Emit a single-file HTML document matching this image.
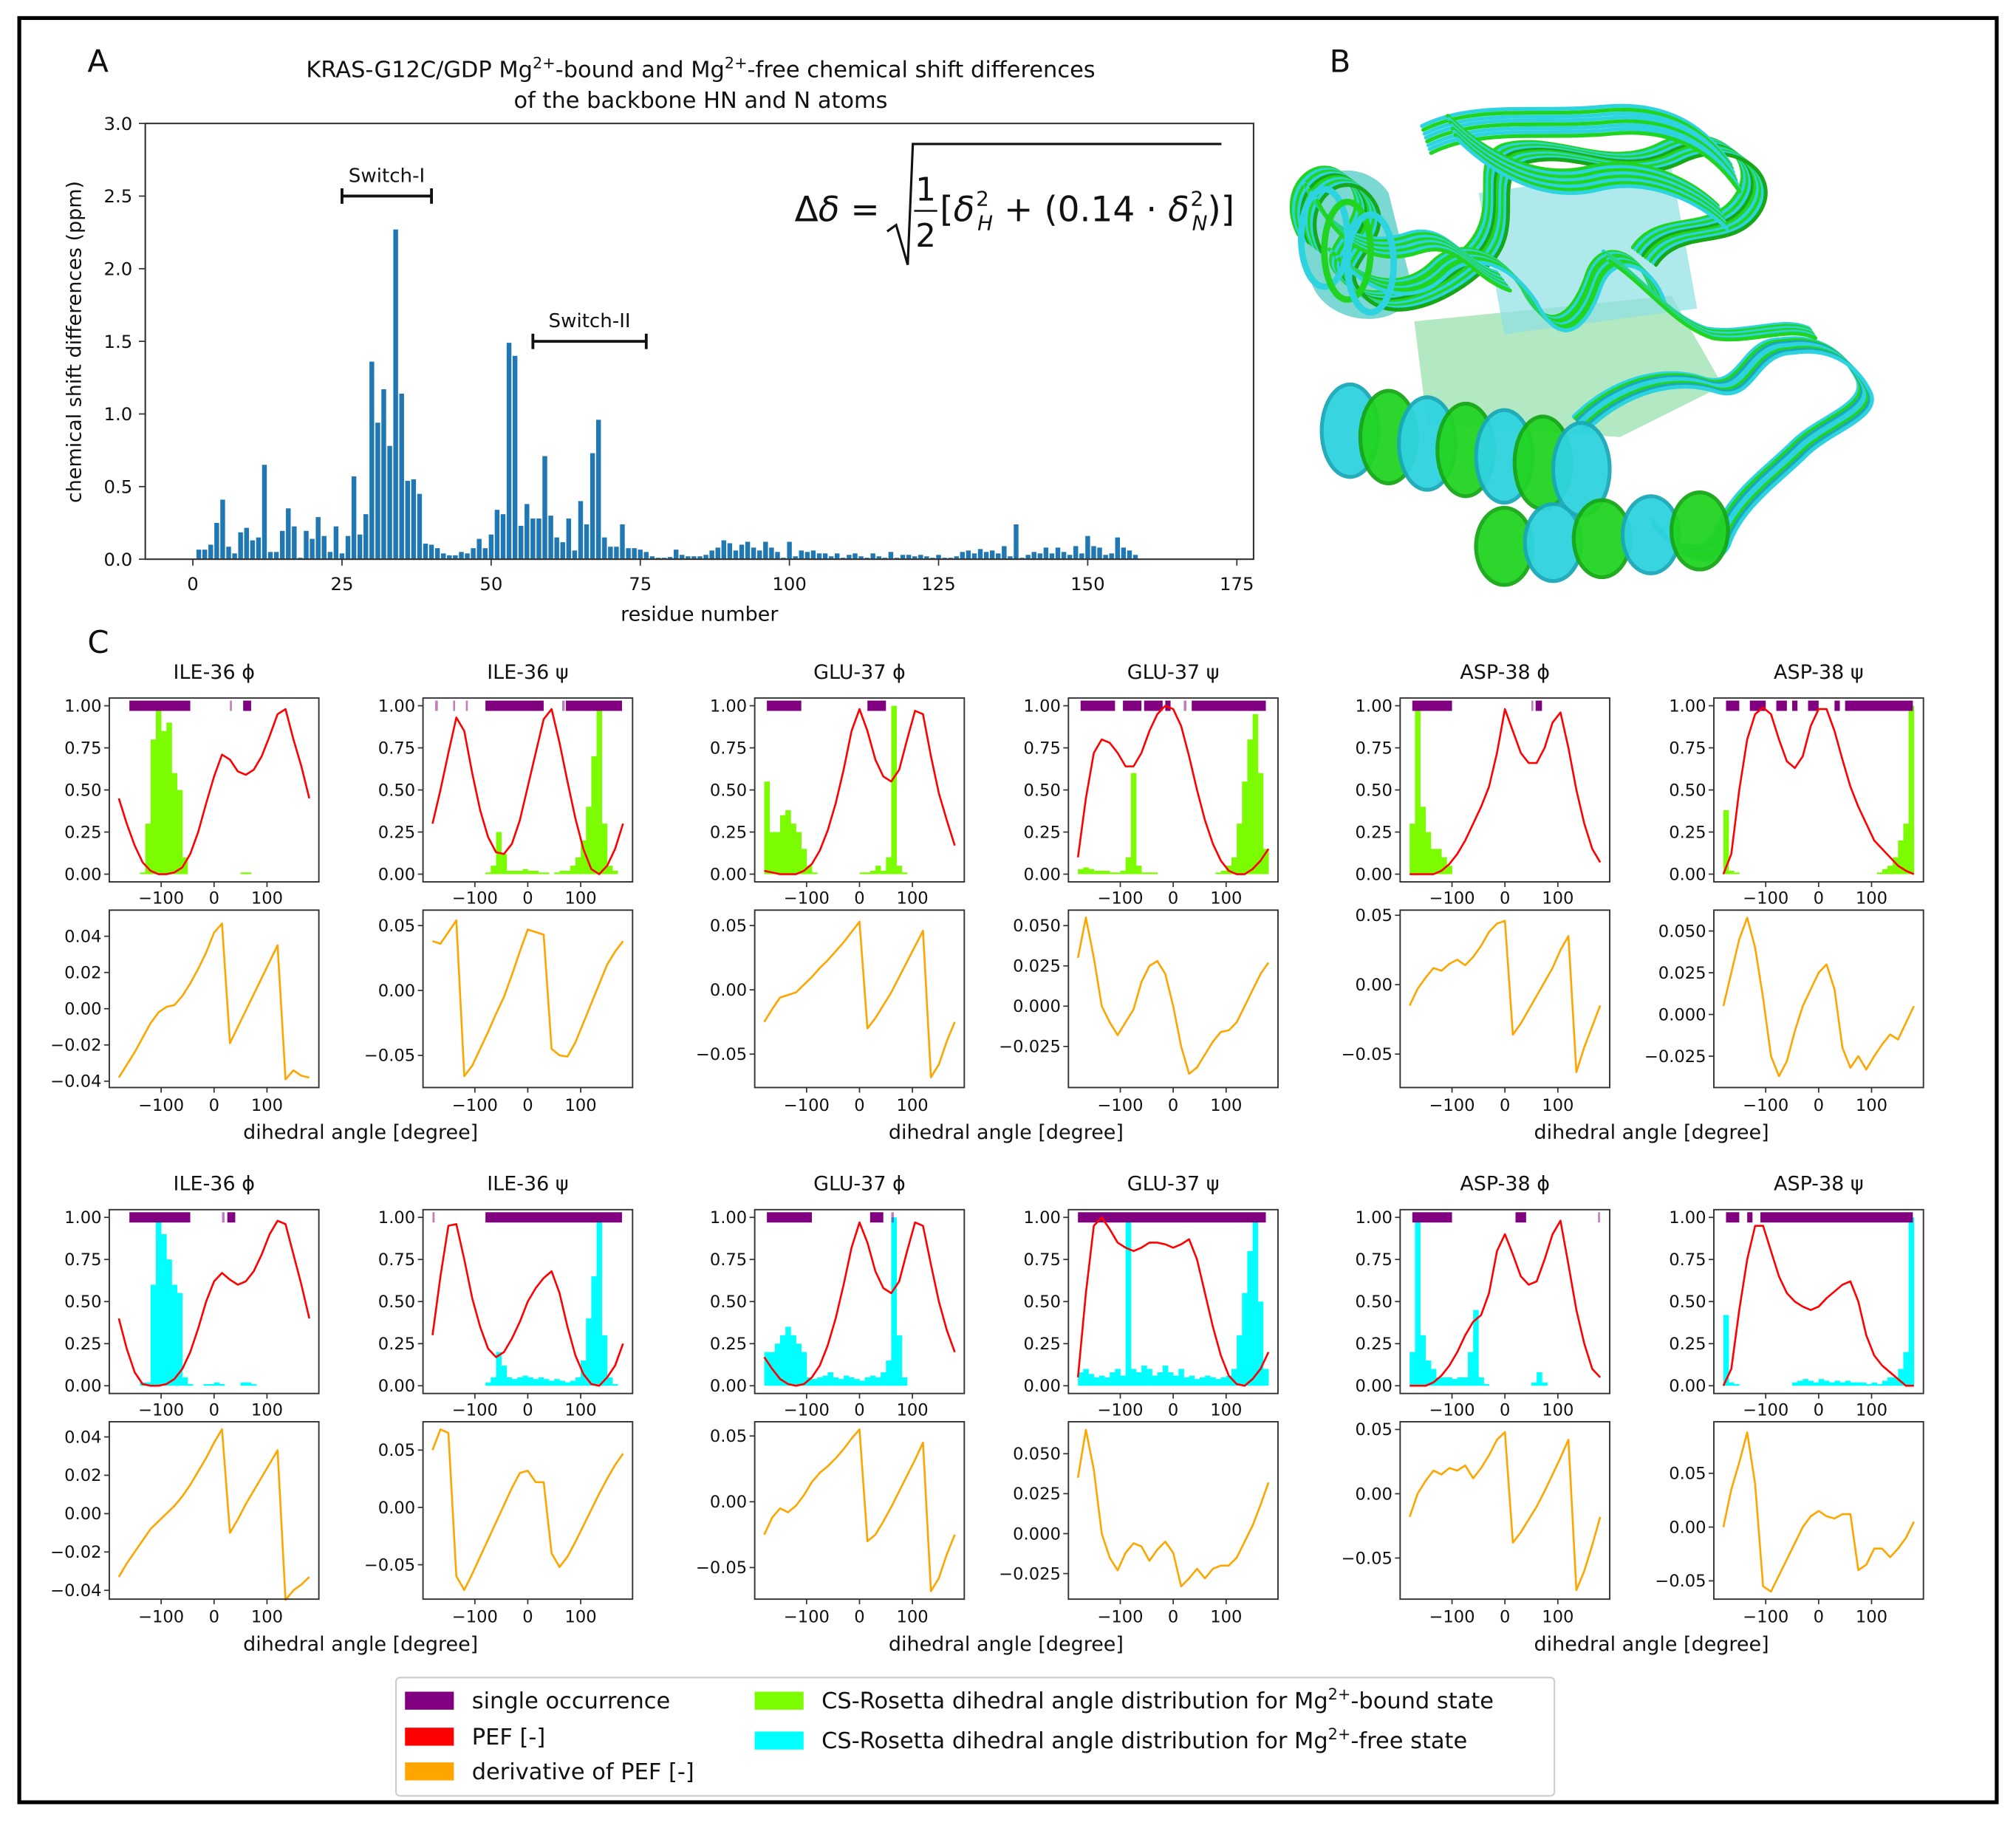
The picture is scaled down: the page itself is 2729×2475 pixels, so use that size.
<!DOCTYPE html>
<html><head><meta charset="utf-8"><style>
html,body{margin:0;padding:0;background:#fff}
svg{display:block}
text{font-family:"DejaVu Sans","Liberation Sans",sans-serif;fill:#111}
</style></head><body>
<svg id="fig" xmlns="http://www.w3.org/2000/svg" width="2729" height="2475" viewBox="0 0 1568 1422">
<rect x="15" y="14" width="1538" height="1388" fill="#fff" stroke="#000" stroke-width="3"/>
<text x="68" y="56" font-size="24">A</text>
<text x="1034" y="56" font-size="24">B</text>
<text x="68" y="508" font-size="24">C</text>
<text x="545" y="60" font-size="17.5" text-anchor="middle">KRAS-G12C/GDP Mg<tspan font-size="12" dy="-7">2+</tspan><tspan dy="7">-bound and Mg</tspan><tspan font-size="12" dy="-7">2+</tspan><tspan dy="7">-free chemical shift differences</tspan></text>
<text x="545" y="84" font-size="17.5" text-anchor="middle">of the backbone HN and N atoms</text>
<g id="panelA"></g>
<g id="protein"></g>
<g id="panelC"></g>
<g id="legend"></g>
</svg>
<script>
// ---------- Panel A data ----------
const residueValues = [0.066,0.066,0.1,0.25,0.41,0.086,0.04,0.185,0.216,0.13,0.15,0.65,0.05,0.05,0.195,0.35,0.226,0.01,0.195,0.14,0.29,0.16,0.05,0.226,0.04,0.16,0.57,0.17,0.31,1.36,0.94,1.17,0.78,2.27,1.14,0.54,0.55,0.45,0.107,0.1,0.076,0.04,0.027,0.027,0.05,0.04,0.076,0.14,0.076,0.17,0.34,0.31,1.49,1.40,0.23,0.38,0.28,0.28,0.71,0.3,0.15,0.117,0.28,0.06,0.4,0.24,0.73,0.96,0.15,0.086,0.086,0.24,0.076,0.076,0.066,0.05,0.02,0.01,0.01,0.015,0.066,0.03,0.02,0.02,0.02,0.03,0.06,0.08,0.13,0.11,0.06,0.1,0.12,0.08,0.06,0.12,0.08,0.05,0.01,0.12,0.02,0.06,0.05,0.06,0.04,0.04,0.02,0.04,0.01,0.03,0.04,0.02,0.01,0.04,0.02,0.01,0.05,0.01,0.03,0.03,0.02,0.03,0.02,0.01,0.03,0.01,0.01,0.02,0.05,0.06,0.04,0.07,0.05,0.06,0.04,0.09,0.02,0.24,0.01,0.03,0.05,0.04,0.08,0.04,0.08,0.05,0.03,0.09,0.04,0.16,0.09,0.08,0.03,0.04,0.15,0.08,0.06,0.03];
const aXTicks = [0,25,50,75,100,125,150,175];
const aYTicks = [0,0.5,1.0,1.5,2.0,2.5,3.0];
const switchRanges = [[25,40,2.5,"Switch-I"],[57,76,1.5,"Switch-II"]];

// ---------- Panel C data ----------
const titles = ["ILE-36 ϕ","ILE-36 ψ","GLU-37 ϕ","GLU-37 ψ","ASP-38 ϕ","ASP-38 ψ"];
const angleGrid = [-180,-165,-150,-135,-120,-105,-90,-75,-60,-45,-30,-15,0,15,30,45,60,75,90,105,120,135,150,165,180];
const binStarts = [-180,-170,-160,-150,-140,-130,-120,-110,-100,-90,-80,-70,-60,-50,-40,-30,-20,-10,0,10,20,30,40,50,60,70,80,90,100,110,120,130,140,150,160,170];
const pefTop1 = [0.45,0.30,0.17,0.07,0.02,0.0,0.0,0.01,0.04,0.12,0.25,0.42,0.58,0.71,0.68,0.61,0.59,0.62,0.70,0.82,0.95,0.98,0.80,0.64,0.45];
const pefTop2 = [0.30,0.50,0.72,0.93,0.85,0.6,0.38,0.22,0.13,0.12,0.18,0.32,0.52,0.72,0.92,0.98,0.78,0.55,0.33,0.15,0.03,0.0,0.05,0.15,0.3];
const pefTop3 = [0.02,0.01,0.0,0.0,0.0,0.02,0.06,0.14,0.26,0.42,0.62,0.85,0.98,0.85,0.68,0.58,0.55,0.62,0.80,0.97,0.95,0.70,0.48,0.32,0.17];
const pefTop4 = [0.10,0.45,0.72,0.80,0.78,0.72,0.64,0.64,0.72,0.85,0.95,1.0,0.98,0.88,0.70,0.50,0.32,0.18,0.08,0.02,0.0,0.0,0.03,0.08,0.15];
const pefTop5 = [0.0,0.0,0.0,0.0,0.02,0.06,0.12,0.2,0.3,0.4,0.52,0.72,0.98,0.85,0.72,0.66,0.66,0.75,0.9,0.96,0.75,0.5,0.3,0.15,0.07];
const pefTop6 = [0.0,0.12,0.5,0.8,0.95,0.99,0.95,0.8,0.67,0.63,0.7,0.88,0.98,0.98,0.85,0.68,0.52,0.4,0.3,0.2,0.15,0.1,0.05,0.02,0.0];
const pefBot1 = [0.40,0.22,0.08,0.01,0.0,0.0,0.01,0.04,0.1,0.2,0.34,0.5,0.62,0.67,0.63,0.6,0.62,0.68,0.78,0.9,0.98,0.96,0.78,0.6,0.40];
const pefBot2 = [0.30,0.65,0.95,0.96,0.75,0.52,0.35,0.22,0.17,0.2,0.28,0.38,0.5,0.58,0.64,0.68,0.55,0.35,0.18,0.07,0.01,0.0,0.05,0.12,0.25];
const pefBot3 = [0.17,0.1,0.04,0.01,0.0,0.01,0.05,0.12,0.24,0.4,0.6,0.82,0.97,0.85,0.68,0.58,0.55,0.62,0.8,0.97,0.95,0.72,0.5,0.33,0.2];
const pefBot4 = [0.05,0.55,0.95,1.0,0.93,0.85,0.82,0.8,0.82,0.85,0.85,0.84,0.82,0.84,0.87,0.75,0.55,0.35,0.18,0.06,0.01,0.0,0.04,0.1,0.2];
const pefBot5 = [0.0,0.0,0.0,0.02,0.06,0.12,0.2,0.3,0.38,0.42,0.55,0.8,0.9,0.78,0.65,0.6,0.62,0.75,0.9,0.98,0.72,0.45,0.25,0.1,0.05];
const pefBot6 = [0.0,0.1,0.45,0.75,0.95,0.95,0.8,0.65,0.55,0.5,0.47,0.45,0.47,0.52,0.56,0.6,0.62,0.5,0.3,0.18,0.12,0.08,0.04,0.0,0.0];
const derTop1 = [-0.038,-0.031,-0.024,-0.016,-0.008,-0.002,0.001,0.002,0.007,0.014,0.022,0.031,0.042,0.047,-0.019,-0.01,-0.001,0.008,0.017,0.026,0.035,-0.039,-0.034,-0.037,-0.038];
const derTop2 = [0.038,0.036,0.045,0.054,-0.066,-0.058,-0.045,-0.032,-0.018,-0.005,0.012,0.03,0.047,0.045,0.043,-0.045,-0.05,-0.051,-0.04,-0.025,-0.01,0.005,0.02,0.03,0.038];
const derTop3 = [-0.025,-0.015,-0.006,-0.004,-0.002,0.004,0.01,0.017,0.023,0.03,0.037,0.045,0.053,-0.03,-0.022,-0.012,-0.002,0.01,0.022,0.034,0.046,-0.068,-0.058,-0.04,-0.025];
const derTop4 = [0.03,0.055,0.03,0.0,-0.01,-0.018,-0.01,-0.002,0.015,0.025,0.028,0.02,0.0,-0.025,-0.042,-0.038,-0.03,-0.022,-0.016,-0.015,-0.01,0.0,0.01,0.02,0.027];
const derTop5 = [-0.015,-0.003,0.005,0.012,0.01,0.015,0.018,0.014,0.02,0.028,0.038,0.044,0.046,-0.036,-0.028,-0.018,-0.008,0.002,0.012,0.025,0.035,-0.063,-0.045,-0.03,-0.015];
const derTop6 = [0.005,0.025,0.045,0.058,0.04,0.01,-0.025,-0.037,-0.028,-0.01,0.005,0.015,0.025,0.03,0.015,-0.02,-0.032,-0.025,-0.033,-0.025,-0.018,-0.012,-0.015,-0.005,0.005];
const derBot1 = [-0.033,-0.026,-0.02,-0.014,-0.008,-0.004,0.0,0.004,0.009,0.015,0.022,0.029,0.037,0.044,-0.01,-0.003,0.005,0.012,0.019,0.026,0.033,-0.045,-0.04,-0.037,-0.033];
const derBot2 = [0.05,0.068,0.065,-0.06,-0.072,-0.058,-0.043,-0.028,-0.013,0.002,0.017,0.03,0.032,0.022,0.022,-0.04,-0.052,-0.043,-0.03,-0.016,-0.002,0.012,0.025,0.037,0.047];
const derBot3 = [-0.025,-0.012,-0.005,-0.008,-0.003,0.005,0.015,0.022,0.027,0.033,0.04,0.048,0.055,-0.03,-0.025,-0.015,-0.004,0.008,0.02,0.032,0.045,-0.068,-0.058,-0.04,-0.025];
const derBot4 = [0.035,0.065,0.04,0.0,-0.015,-0.023,-0.012,-0.006,-0.008,-0.017,-0.01,-0.005,-0.012,-0.033,-0.028,-0.022,-0.028,-0.022,-0.02,-0.02,-0.015,-0.005,0.005,0.018,0.032];
const derBot5 = [-0.018,0.0,0.01,0.018,0.015,0.02,0.018,0.022,0.012,0.02,0.03,0.042,0.048,-0.038,-0.03,-0.02,-0.01,0.002,0.015,0.028,0.042,-0.075,-0.06,-0.04,-0.018];
const derBot6 = [0.0,0.035,0.06,0.088,0.04,-0.055,-0.06,-0.045,-0.03,-0.015,0.0,0.01,0.015,0.01,0.008,0.012,0.012,-0.04,-0.035,-0.02,-0.02,-0.028,-0.02,-0.01,0.005];
const histTop1 = [0,0,0,0,0.01,0.3,0.8,1.0,0.85,0.9,0.6,0.5,0.1,0,0,0,0,0,0,0,0,0,0,0.01,0.01,0,0,0,0,0,0,0,0,0,0,0];
const histTop2 = [0,0,0,0,0,0,0,0,0,0,0.01,0.05,0.25,0.12,0.02,0.02,0.02,0.03,0.02,0.02,0.01,0.01,0,0.01,0.02,0.02,0.05,0.1,0.2,0.4,0.7,1.0,0.3,0.05,0.02,0];
const histTop3 = [0.55,0.25,0.25,0.35,0.38,0.3,0.25,0.15,0.05,0.01,0,0,0,0,0,0,0,0,0.01,0.01,0.02,0.05,0.02,0.1,1.0,0.05,0.01,0,0,0,0,0,0,0,0,0];
const histTop4 = [0.03,0.04,0.03,0.02,0.02,0.02,0.01,0.01,0.02,0.1,0.6,0.05,0.01,0.01,0.01,0,0,0,0,0,0,0,0,0,0,0,0.01,0.02,0.05,0.1,0.3,0.55,0.8,0.95,0.6,0.15];
const histTop5 = [0.3,1.0,0.4,0.25,0.15,0.15,0.1,0.05,0,0,0,0,0,0,0,0,0,0,0,0,0,0,0,0,0,0,0,0,0,0,0,0,0,0,0,0];
const histTop6 = [0.38,0.02,0.01,0,0,0,0,0,0,0,0,0,0,0,0,0,0,0,0,0,0,0,0,0,0,0,0,0,0,0.01,0.03,0.05,0.1,0.2,0.3,1.0];
const histBot1 = [0,0,0,0,0.02,0.02,0.6,1.0,0.9,0.75,0.6,0.55,0.05,0.01,0,0,0.01,0.01,0.02,0.01,0,0,0,0.02,0.02,0.01,0,0,0,0,0,0,0,0,0,0];
const histBot2 = [0,0,0,0,0,0,0,0,0,0,0.02,0.05,0.2,0.12,0.05,0.04,0.05,0.06,0.05,0.04,0.05,0.04,0.03,0.04,0.03,0.02,0.03,0.05,0.15,0.4,0.65,1.0,0.3,0.05,0.01,0];
const histBot3 = [0.2,0.2,0.25,0.3,0.35,0.3,0.25,0.2,0.05,0.04,0.05,0.06,0.08,0.05,0.04,0.06,0.05,0.04,0.03,0.05,0.06,0.05,0.08,0.15,1.0,0.3,0.05,0,0,0,0,0,0,0,0,0];
const histBot4 = [0.08,0.1,0.07,0.05,0.06,0.05,0.08,0.1,0.06,1.0,0.1,0.08,0.12,0.1,0.06,0.08,0.12,0.08,0.06,0.1,0.05,0.06,0.04,0.05,0.06,0.05,0.04,0.05,0.06,0.1,0.3,0.55,0.8,1.0,0.5,0.1];
const histBot5 = [0.2,1.0,0.3,0.15,0.1,0.05,0.05,0.05,0.04,0.05,0.05,0.2,0.45,0.05,0.01,0,0,0,0,0,0,0,0,0.02,0.08,0.02,0,0,0,0,0,0,0,0,0,0];
const histBot6 = [0.42,0.02,0.01,0,0,0,0,0,0,0,0,0,0,0.02,0.03,0.04,0.03,0.02,0.04,0.03,0.02,0.03,0.02,0.03,0.02,0.02,0.02,0.01,0.02,0.01,0.03,0.05,0.05,0.1,0.2,1.0];
const occTop1 = [[-160,-45],[30,33],[55,70]];
const occTop2 = [[-175,-170],[-141,-138],[-117,-114],[-80,30],[65,70],[72,178]];
const occTop3 = [[-175,-110],[15,50]];
const occTop4 = [[-175,-110],[-95,-60],[-55,-20],[-15,-5],[20,25],[35,175]];
const occTop5 = [[-175,-100],[50,52],[58,70]];
const occTop6 = [[-175,-150],[-130,-100],[-80,-60],[-50,-40],[-20,0],[30,40],[50,178]];
const occBot1 = [[-160,-45],[15,20],[25,40]];
const occBot2 = [[-180,-176],[-80,178]];
const occBot3 = [[-175,-90],[20,45],[60,65]];
const occBot4 = [[-180,175]];
const occBot5 = [[-175,-100],[20,40],[176,178]];
const occBot6 = [[-175,-150],[-135,-125],[-110,178]];
const dLimTop = [[-0.0435,0.0544],[-0.0748,0.0619],[-0.076,0.062],[-0.0505,0.0596],[-0.0741,0.0537],[-0.0438,0.0625]];
const dLimBot = [[-0.0446,0.0479],[-0.080,0.0747],[-0.074,0.0608],[-0.041,0.070],[-0.082,0.056],[-0.067,0.0979]];
const dTicksA = [0.04,0.02,0,-0.02,-0.04];
const dTicksB = [0.05,0,-0.05];
const dTicksC = [0.05,0.025,0,-0.025];
const pefTicks = [0,0.25,0.5,0.75,1.0];
const xTicksC = [-100,0,100];

const NS = "http://www.w3.org/2000/svg";
function mk(tag, attrs, parent){const e=document.createElementNS(NS,tag);for(const k in attrs)e.setAttribute(k,attrs[k]);parent.appendChild(e);return e;}
function txt(s,x,y,size,anchor,parent,name){const t=mk('text',{x:x,y:y,'font-size':size,'text-anchor':anchor},parent);t.textContent=s;


return t;}
function fmt(v,d){const s=Math.abs(v).toFixed(d);return (v<0?'\u2212':'')+s;}

// ---------- Panel A ----------
const gA = document.getElementById('panelA');
const xA = r => 150 + r*4.64;
const yA = v => 435 - v*113;
residueValues.forEach((v,i)=>{
  const r=i+1;
  const b=mk('rect',{x:xA(r)-1.85,y:yA(v),width:3.7,height:v*113,fill:'#1f77b4'},gA);
  
  
});
let fr=mk('rect',{x:113,y:96,width:862,height:339,fill:'none',stroke:'#333','stroke-width':1.2},gA);


aXTicks.forEach(t=>{
  const l=mk('line',{x1:xA(t),x2:xA(t),y1:435,y2:440,stroke:'#333'},gA);
  
  
  txt(String(t),xA(t),459,14,'middle',gA,'x-tick-label-a');
});
aYTicks.forEach(t=>{
  const l=mk('line',{x1:108,x2:113,y1:yA(t),y2:yA(t),stroke:'#333'},gA);
  
  
  txt(t.toFixed(1),103,yA(t)+5,14,'end',gA,'y-tick-label-a');
});
txt('residue number',544,483,15.5,'middle',gA,'x-axis-title-a');
const yt=txt('chemical shift differences (ppm)',0,0,15.5,'middle',gA,'y-axis-title-a');
yt.setAttribute('transform','translate(63,266) rotate(-90)');
switchRanges.forEach(s=>{
  const x1=xA(s[0]),x2=xA(s[1]),y=yA(s[2]);
  const p=mk('path',{d:`M${x1},${y-6}V${y+6}M${x1},${y}H${x2}M${x2},${y-6}V${y+6}`,stroke:'#111','stroke-width':2.2,fill:'none'},gA);
  
  
  txt(s[3],(x1+x2)/2,y-11,15,'middle',gA,'switch-label');
});
// formula
const fg=mk('g',{},gA);


const f1=mk('text',{x:618,y:172,'font-size':27,'font-family':'Liberation Serif, serif'},fg);
f1.textContent='Δ';


const f1b=mk('tspan',{'font-style':'italic'},f1);f1b.textContent='δ';
const f1c=mk('tspan',{},f1);f1c.textContent=' =';
const rad=mk('path',{d:'M690,180 L697,175 L706,206 L710,112 L950,112',stroke:'#111','stroke-width':1.8,fill:'none'},fg);


txt('1',720,156,25,'middle',fg,'formula-numerator').setAttribute('font-family','Liberation Serif, serif');
mk('line',{x1:711,x2:729,y1:164,y2:164,stroke:'#111','stroke-width':1.4},fg);
txt('2',720,192,25,'middle',fg,'formula-denominator').setAttribute('font-family','Liberation Serif, serif');
const f2=mk('text',{x:731,y:172,'font-size':27,'font-family':'Liberation Serif, serif'},fg);


f2.innerHTML='[<tspan font-style="italic">δ</tspan><tspan font-size="16" dx="1" dy="-12">2</tspan><tspan font-size="16" font-style="italic" dx="-9" dy="19">H</tspan><tspan dy="-7"> + (0.14  · </tspan><tspan font-style="italic">δ</tspan><tspan font-size="16" dx="1" dy="-12">2</tspan><tspan font-size="16" font-style="italic" dx="-9" dy="19">N</tspan><tspan dy="-7">)]</tspan>';

// ---------- Panel B (protein) ----------
const gB=document.getElementById('protein');
const G='#22d422',C='#2ed3e0',Cd='#1aa9b8',Gd='#16a816';
function bundle(d,cols,n,dx,dy,w,name){
  for(let i=0;i<n;i++){
    const p=mk('path',{d:d,fill:'none',stroke:cols[i%cols.length],'stroke-width':w,'stroke-linecap':'round',transform:`translate(${(i-n/2)*dx},${(i-n/2)*dy})`},gB);
    
    
  }
}
let core=mk('path',{d:'M1100,250 L1300,230 L1340,300 L1260,340 L1110,330 Z',fill:'#7fd89a',opacity:0.6},gB);


core=mk('path',{d:'M1150,150 L1300,130 L1320,240 L1170,260 Z',fill:'#8fdfe4',opacity:0.7},gB);


core=mk('path',{d:'M1010,170 C1010,130 1060,120 1080,150 L1100,230 C1080,260 1030,250 1020,220 Z',fill:'#44c8c0',opacity:0.7},gB);


bundle('M1020,190 C1000,150 1040,120 1060,150 C1080,180 1030,200 1050,220 C1070,250 1120,230 1150,200 C1180,170 1150,130 1180,120 C1220,110 1260,140 1300,120 C1340,100 1380,130 1360,160 C1340,190 1300,170 1280,200',[G,C,G,C,Gd],10,2,1.5,3,'loop-bundle-top');
bundle('M1110,110 C1150,90 1200,100 1250,95 C1300,90 1330,110 1350,140',[C,G,C],8,1,3,3,'loop-bundle-upper');
bundle('M1130,100 C1160,130 1200,150 1240,140 C1280,130 1320,150 1340,170',[G,C],8,1,2.5,3,'loop-bundle-upper2');
bundle('M1040,200 C1070,230 1100,230 1120,210 C1140,190 1170,200 1190,230 C1210,270 1230,250 1240,220 C1250,190 1280,200 1290,230',[G,C,G],8,1.5,1.5,3,'loop-bundle-mid');
bundle('M1020,150 C1040,190 1070,200 1100,190 C1130,180 1140,210 1170,220',[C,G,C,G],8,1.5,2,3,'loop-bundle-left');
bundle('M1230,330 C1260,300 1300,290 1330,300 C1360,310 1360,270 1390,270 C1420,265 1440,280 1450,300 C1460,320 1420,330 1400,350 C1380,370 1350,390 1340,420 C1330,440 1300,430 1290,410',[C,G,Cd,C],8,1.5,1.5,3,'loop-bundle-right');
bundle('M1250,200 C1280,220 1300,250 1330,260 C1360,265 1390,250 1410,260',[C,G],6,1,1.5,3,'loop-bundle-right-upper');
for(let i=0;i<7;i++){
  const cx=1050+i*30, cy=335+i*5;
  const e=mk('ellipse',{cx:cx,cy:cy,rx:22,ry:36,fill:i%2?G:C,stroke:i%2?Gd:Cd,'stroke-width':3,opacity:0.95},gB);
  
  
}
for(let i=0;i<5;i++){
  const cx=1170+i*38, cy=425-i*3;
  const e=mk('ellipse',{cx:cx,cy:cy,rx:22,ry:30,fill:i%2?C:G,stroke:i%2?Cd:Gd,'stroke-width':3,opacity:0.95},gB);
  
  
}
for(let i=0;i<3;i++){
  const e=mk('ellipse',{cx:1030+i*18,cy:185+i*10,rx:18,ry:38,fill:'none',stroke:i%2?G:C,'stroke-width':5},gB);
  
  
}

// ---------- Panel C ----------
const gC=document.getElementById('panelC');
const colLeft=[85,329,587,831,1089,1333];
const rows=[
 {top:543,pef:[pefTop1,pefTop2,pefTop3,pefTop4,pefTop5,pefTop6],der:[derTop1,derTop2,derTop3,derTop4,derTop5,derTop6],hist:[histTop1,histTop2,histTop3,histTop4,histTop5,histTop6],occ:[occTop1,occTop2,occTop3,occTop4,occTop5,occTop6],lim:dLimTop,ticks:[dTicksA,dTicksB,dTicksB,dTicksC,dTicksB,dTicksC],hc:'#7cfc00'},
 {top:941,pef:[pefBot1,pefBot2,pefBot3,pefBot4,pefBot5,pefBot6],der:[derBot1,derBot2,derBot3,derBot4,derBot5,derBot6],hist:[histBot1,histBot2,histBot3,histBot4,histBot5,histBot6],occ:[occBot1,occBot2,occBot3,occBot4,occBot5,occBot6],lim:dLimBot,ticks:[dTicksA,dTicksB,dTicksB,dTicksC,dTicksB,dTicksB],hc:'#00ffff'}
];
function poly(xs,ys,xf,yf){return xs.map((x,i)=>(i?'L':'M')+xf(x).toFixed(2)+','+yf(ys[i]).toFixed(2)).join('');}
rows.forEach((row,ri)=>{
  for(let c=0;c<6;c++){
    const L=colLeft[c], W=163;
    const xf=a=>L+81.5+a*81.5/198;
    const pt=row.top, yP=v=>pt+137-v*131;
    const g=mk('g',{},gC);
    
    
    txt(titles[c],L+81.5,pt-15,15.5,'middle',g,'subplot-title');
    row.hist[c].forEach((v,i)=>{
      if(v<=0) return;
      const r=mk('rect',{x:xf(binStarts[i]),y:yP(v),width:xf(binStarts[i]+10)-xf(binStarts[i])+0.2,height:v*131,fill:row.hc},g);
      
      
    });
    row.occ[c].forEach(s=>{
      const r=mk('rect',{x:xf(s[0]),y:yP(1)-4,width:Math.max(1.5,xf(s[1])-xf(s[0])),height:8,fill:'#800080',opacity:(s[1]-s[0])<10?0.5:1},g);
      
      
    });
    const pl=mk('path',{d:poly(angleGrid,row.pef[c],xf,yP),fill:'none',stroke:'#ff0000','stroke-width':1.5,'stroke-linejoin':'round'},g);
    
    
    const b1=mk('rect',{x:L,y:pt,width:W,height:143,fill:'none',stroke:'#333','stroke-width':1.1},g);
    
    
    pefTicks.forEach(t=>{
      mk('line',{x1:L-4,x2:L,y1:yP(t),y2:yP(t),stroke:'#333'},g);
      txt(t.toFixed(2),L-6,yP(t)+4.5,13,'end',g,'pef-y-tick-label');
    });
    xTicksC.forEach(t=>{
      mk('line',{x1:xf(t),x2:xf(t),y1:pt+143,y2:pt+147,stroke:'#333'},g);
      txt(t<0?'\u2212'+(-t):String(t),xf(t),pt+160,13,'middle',g,'pef-x-tick-label');
    });
    const dt=pt+165, lim=row.lim[c];
    const yD=v=>dt+(lim[1]-v)/(lim[1]-lim[0])*138;
    const dl=mk('path',{d:poly(angleGrid,row.der[c],xf,yD),fill:'none',stroke:'#ffa500','stroke-width':1.5,'stroke-linejoin':'round'},g);
    
    
    const b2=mk('rect',{x:L,y:dt,width:W,height:138,fill:'none',stroke:'#333','stroke-width':1.1},g);
    
    
    const tk=row.ticks[c], dec=(tk===dTicksC)?3:2;
    tk.forEach(t=>{
      mk('line',{x1:L-4,x2:L,y1:yD(t),y2:yD(t),stroke:'#333'},g);
      txt(fmt(t,dec),L-6,yD(t)+4.5,13,'end',g,'derivative-y-tick-label');
    });
    xTicksC.forEach(t=>{
      mk('line',{x1:xf(t),x2:xf(t),y1:dt+138,y2:dt+142,stroke:'#333'},g);
      txt(t<0?'\u2212'+(-t):String(t),xf(t),dt+156,13,'middle',g,'derivative-x-tick-label');
    });
    if(c%2===1){
      txt('dihedral angle [degree]',(colLeft[c-1]+L+W)/2-8,dt+178,15.5,'middle',g,'x-axis-title-c');
    }
  }
});

// ---------- Legend ----------
const gL=document.getElementById('legend');
let lb=mk('rect',{x:308,y:1305,width:901,height:92,rx:3,fill:'#fff',stroke:'#ccc','stroke-width':1.2},gL);


const legendItems=[
 [315,1316,'#800080','single occurrence'],
 [315,1344,'#ff0000','PEF [-]'],
 [315,1371,'#ffa500','derivative of PEF [-]'],
 [587,1316,'#7cfc00','CS-Rosetta dihedral angle distribution for Mg|-bound state'],
 [587,1347,'#00ffff','CS-Rosetta dihedral angle distribution for Mg|-free state']
];
legendItems.forEach(it=>{
  const s=mk('rect',{x:it[0],y:it[1],width:38,height:14,fill:it[2]},gL);
  
  
  const t=mk('text',{x:it[0]+52,y:it[1]+13,'font-size':17.5},gL);
  
  
  const parts=it[3].split('|');
  t.appendChild(document.createTextNode(parts[0]));
  if(parts.length>1){
    const sp=mk('tspan',{'font-size':12,dy:-7},t);sp.textContent='2+';
    const sp2=mk('tspan',{dy:7},t);sp2.textContent=parts[1];
  }
});
</script>
</body></html>
